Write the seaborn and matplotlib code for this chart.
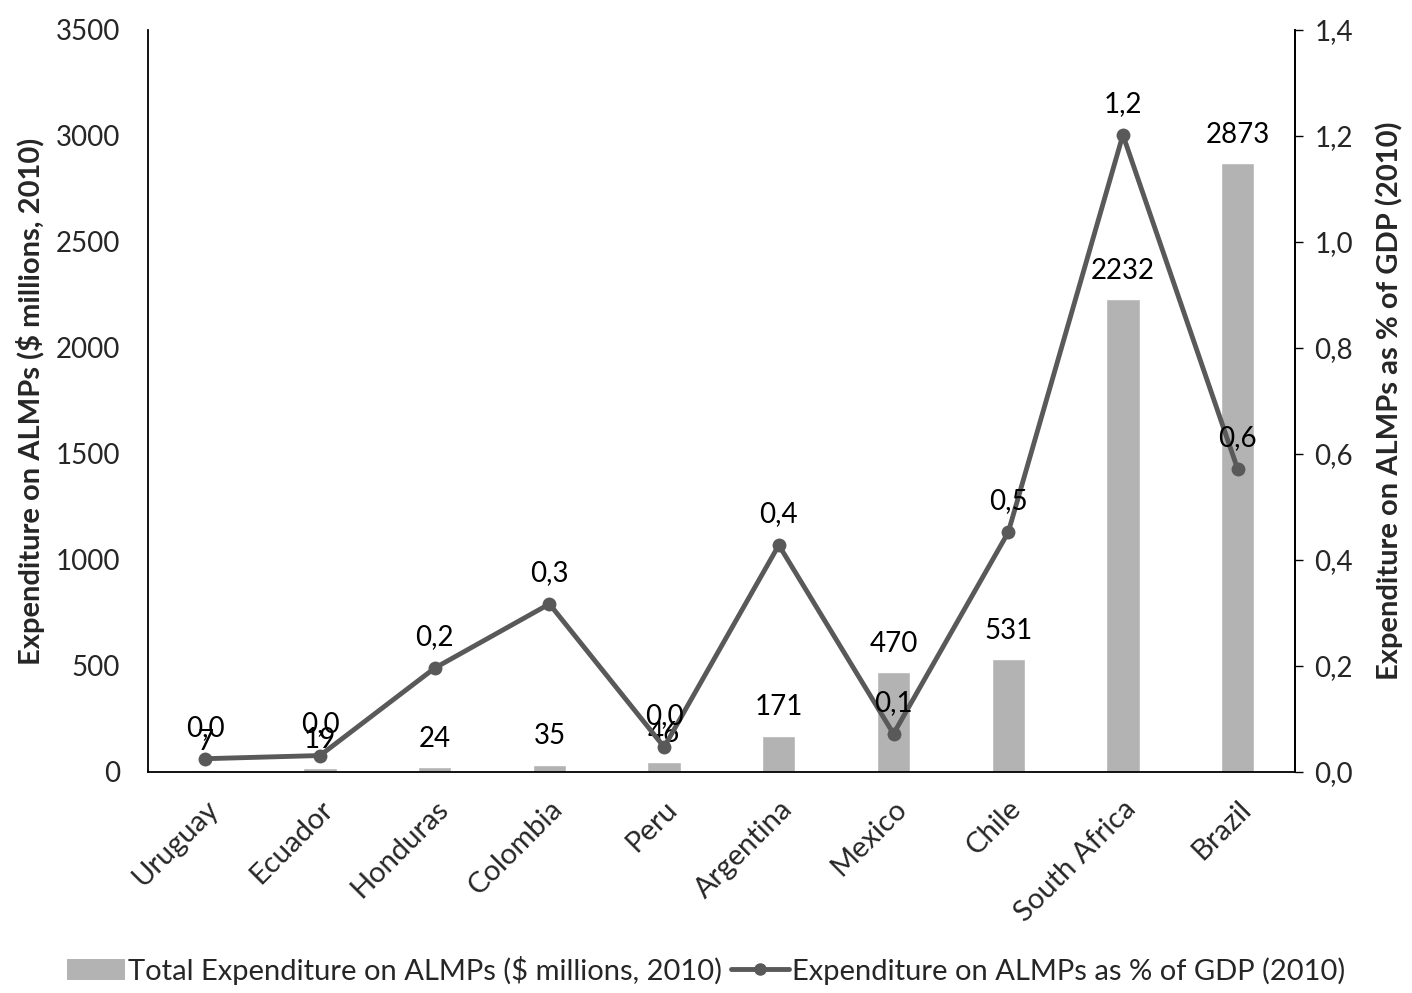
import matplotlib
matplotlib.use("Agg")
import matplotlib.pyplot as plt
import seaborn as sns
import pandas as pd
import numpy as np
from matplotlib.lines import Line2D
from matplotlib.patches import Patch

countries = ["Uruguay", "Ecuador", "Honduras", "Colombia", "Peru",
             "Argentina", "Mexico", "Chile", "South Africa", "Brazil"]
total_spend = [7, 19, 24, 35, 46, 171, 470, 531, 2232, 2873]
pct_gdp = [0.025, 0.031, 0.196, 0.317, 0.047, 0.428, 0.072, 0.452, 1.202, 0.572]

bar_label = "Total Expenditure on ALMPs ($ millions, 2010)"
line_label = "Expenditure on ALMPs as % of GDP (2010)"

sns.set_theme(style="white")
plt.rcParams["font.family"] = ["Lato", "DejaVu Sans"]

BAR_C = "#b3b3b3"
LINE_C = "#595959"
FS = 20

df = pd.DataFrame({"country": countries, "total": total_spend, "pct": pct_gdp})
x = np.arange(len(countries))

fig = plt.figure(figsize=(14.12, 9.93), dpi=100)
ax = fig.add_axes([0.1048, 0.2226, 0.8123, 0.7472])

# Bars: total spending on the left axis
sns.barplot(data=df, x="country", y="total", color=BAR_C, width=0.29,
            saturation=1, ax=ax)
ax.set_ylim(0, 3500)
ax.set_xlim(-0.5, len(countries) - 0.5)
ax.set_yticks(range(0, 3501, 500))
ax.tick_params(axis="y", length=0, labelsize=FS, pad=20)
ax.tick_params(axis="x", length=0, labelsize=21, pad=17)
ax.set_xticks(x)
ax.set_xticklabels(countries, rotation=45, ha="right", rotation_mode="anchor")
ax.set_xlabel("")
ax.set_ylabel("Expenditure on ALMPs ($ millions, 2010)", fontsize=21,
              fontweight="bold", labelpad=8)
ax.spines["top"].set_visible(False)
for sp in ["left", "bottom", "right"]:
    ax.spines[sp].set_color("black")
    ax.spines[sp].set_linewidth(1.3)

for xi, v in zip(x, total_spend):
    ax.annotate(f"{v}", (xi, v), xytext=(0, 11), textcoords="offset points",
                ha="center", va="bottom", fontsize=FS, color="black")

# Line: share of GDP on the right axis
ax2 = ax.twinx()
sns.lineplot(x=x, y=pct_gdp, ax=ax2, color=LINE_C, linewidth=3.5,
             marker="o", markersize=10, markeredgewidth=0, legend=False)
ax2.set_ylim(0, 1.4)
ticks2 = np.arange(0, 1.41, 0.2)
ax2.set_yticks(ticks2)
ax2.set_yticklabels([f"{t:.1f}".replace(".", ",") for t in ticks2])
ax2.tick_params(axis="y", direction="out", length=6, width=1, color="black",
                labelsize=FS, pad=8, right=True)
ax2.set_ylabel("Expenditure on ALMPs as % of GDP (2010)", fontsize=21,
               fontweight="bold", labelpad=16)
ax2.spines["top"].set_visible(False)
ax2.spines["right"].set_color("black")
ax2.spines["right"].set_linewidth(1.3)
ax2.spines["left"].set_visible(False)
ax2.spines["bottom"].set_visible(False)

for xi, v in zip(x, pct_gdp):
    ax2.annotate(f"{v:.1f}".replace(".", ","), (xi, v), xytext=(0, 13),
                 textcoords="offset points", ha="center", va="bottom",
                 fontsize=FS, color="black")

handles = [Patch(facecolor=BAR_C, edgecolor="none"),
           Line2D([0], [0], color=LINE_C, linewidth=3.5, marker="o",
                  markersize=8)]
fig.legend(handles, [bar_label, line_label], loc="lower center",
           bbox_to_anchor=(0.5, -0.018), ncol=2, frameon=False, fontsize=21,
           handlelength=2.0, handletextpad=0.1, columnspacing=0.3)

fig.savefig("out.png", dpi=100)
